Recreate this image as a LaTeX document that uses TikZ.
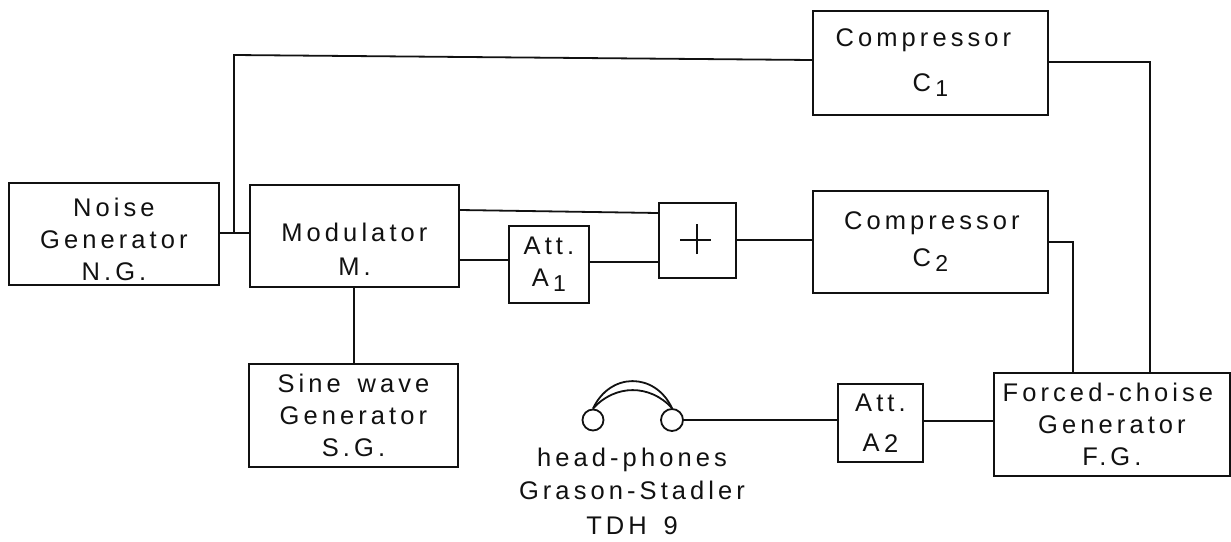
\documentclass[tikz,border=0pt]{standalone}
\usepackage{fontspec}
\usepackage{xcolor}
\setmainfont[LetterSpace=16,WordSpace=1.5]{Liberation Sans}
\definecolor{inkline}{HTML}{111111}
\newcommand{\boxfont}{\fontsize{25.5}{32}\selectfont}
\newcommand{\subnum}[1]{\,\raisebox{-5pt}{\fontsize{23}{23}\selectfont #1}}
\newcommand{\topgap}[1]{\rule{0pt}{#1}}
\tikzset{
  unitbox/.style={draw=inkline, line width=1.9pt, rectangle, anchor=north west, inner sep=0pt, align=center, text=inkline, font=\boxfont},
  wire/.style={draw=inkline, line width=1.8pt},
  earcup/.style={draw=inkline, line width=1.8pt, circle, inner sep=0pt},
}

\begin{document}
\begin{tikzpicture}[x=1pt,y=-1pt]
\useasboundingbox (0,0) rectangle (1231,541);
\node[unitbox, minimum width=210pt, minimum height=102pt] (ng) at (8,182) {\topgap{30pt}Noise\\Generator\\N.G.};
\node[unitbox, minimum width=209pt, minimum height=102pt] (mod) at (249,184) {\topgap{46pt}Modulator\\[2pt]M.};
\node[unitbox, minimum width=209pt, minimum height=103pt] (sg) at (248,363) {Sine wave\\Generator\\S.G.};
\node[unitbox, minimum width=80pt, minimum height=77pt] (att1) at (508,225) {Att.\\A\subnum{1}};
\node[unitbox, minimum width=77pt, minimum height=75pt] (sum) at (658,202) {};
\node[unitbox, minimum width=235pt, minimum height=102pt] (comp2) at (812,190) {\hspace*{3pt}Compressor\\[5pt]C\subnum{2}};
\node[unitbox, minimum width=235pt, minimum height=104pt] (comp1) at (812,10) {Compressor\hspace*{14pt}\\[13pt]C\subnum{1}};
\node[unitbox, minimum width=236pt, minimum height=103pt] (fcg) at (993,372) {Forced-choise\hspace*{8pt}\\Generator\\F.G.};
\node[unitbox, minimum width=85pt, minimum height=78pt] (att2) at (837,383) {Att.\\[8pt]A\,\raisebox{-1pt}{2}};
\node[earcup, minimum size=21pt] (phoneL) at (593,420) {};
\node[earcup, minimum size=22pt] (phoneR) at (672,420) {};
\node[align=center, text=inkline, font=\boxfont, inner sep=0pt] (phonetext) at (632,491) {head-phones\\[1pt]Grason-Stadler\\[3pt]TDH 9};
\coordinate (branch) at (234,233);
\coordinate (corner) at (234,55);
\coordinate (sumcenter) at (697,240);
\coordinate (sgwire) at (354,0);
\draw[wire] (ng.east |- branch) -- (mod.west |- branch);
\draw[wire] (branch) -- (corner) -- (comp1.west |- 0,60);
\draw[wire] (comp1.east |- 0,62) -- (1150,62) -- (fcg.north -| 1150,0);
\draw[wire] (mod.east |- 0,210) -- (sum.west |- 0,213);
\draw[wire] (mod.east |- 0,260) -- (att1.west |- 0,260);
\draw[wire] (att1.east |- 0,262) -- (sum.west |- 0,262);
\draw[wire] (sum.east |- 0,240) -- (comp2.west |- 0,240);
\draw[wire] (comp2.east |- 0,242) -- (1073,242) -- (fcg.north -| 1073,0);
\draw[wire] (sgwire |- mod.south) -- (sgwire |- sg.north);
\draw[wire] (phoneR.east) -- (att2.west |- phoneR.east);
\draw[wire] (att2.east |- 0,421) -- (fcg.west |- 0,421);
\draw[wire] (phoneL.north) .. controls (610,372) and (655,372) .. (phoneR.north);
\draw[wire] (phoneL.north) .. controls (615,384) and (650,384) .. (phoneR.north);
\draw[wire] ([xshift=-17pt]sumcenter) -- ([xshift=14pt]sumcenter);
\draw[wire] ([yshift=-14pt]sumcenter) -- ([yshift=16pt]sumcenter);
\end{tikzpicture}
\end{document}
